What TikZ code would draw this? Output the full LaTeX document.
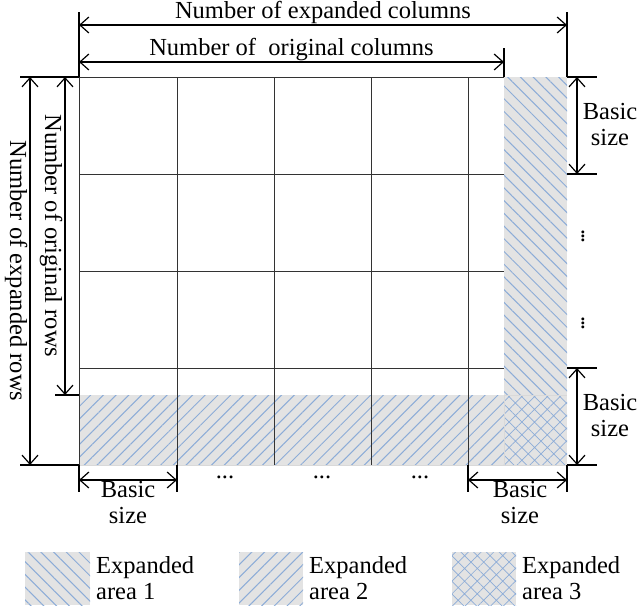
\documentclass[tikz,border=0pt]{standalone}
\usepackage{fontspec}
\setmainfont{Liberation Serif}
\usetikzlibrary{patterns.meta,arrows.meta}
\definecolor{hc}{RGB}{140,172,215}
\begin{document}
\begin{tikzpicture}[x=1pt,y=-1pt,font=\fontsize{24.5}{26}\selectfont,
  dim/.style={{Straight Barb[length=9pt,width=16pt]}-{Straight Barb[length=9pt,width=16pt]},line width=1.2pt},
  ext/.style={line width=1.2pt},
  bg/.style={fill=gray!22},
  pa/.style={pattern={Lines[angle=-45,distance=9pt,line width=1pt]},pattern color=hc},
  pb/.style={pattern={Lines[angle=45,distance=9pt,line width=1pt]},pattern color=hc},
  pc/.style={pattern={Hatch[angle=45,distance=9pt,line width=0.7pt]},pattern color=hc},
  grid/.style={line width=0.9pt,black!80},
  lab/.style={align=center,inner sep=0pt}]
\useasboundingbox (0,0) rectangle (640,613);
% hatched areas
\fill[bg] (504,77) rectangle (567,395);
\fill[pa] (504,77) rectangle (567,395);
\fill[bg] (79,395) rectangle (504,465);
\fill[pb] (79,395) rectangle (504,465);
\fill[bg] (504,395) rectangle (567,465);
\fill[pc] (504,395) rectangle (567,465);
% grid
\draw[grid] (79,77) -- (504,77);
\foreach \y in {174,271,368} \draw[grid] (79,\y) -- (504,\y);
\foreach \x in {79,177,274,371,468} \draw[grid] (\x,77) -- (\x,465);
\draw[grid,white!85!black] (504,395) -- (504,465) (79,465) -- (567,465) (504,395)--(567,395);
% top dims
\draw[ext] (79,12) -- (79,77);
\draw[ext] (567,12) -- (567,77);
\draw[ext] (504,48) -- (504,77);
\draw[dim] (79,25) -- node[above=1pt,lab] (t1) {Number of expanded columns} (567,25);
\draw[dim] (79,62) -- node[above=1pt,lab] (t2) {Number of\ \ original columns} (504,62);
% left dims
\draw[ext] (20,77) -- (79,77);
\draw[ext] (20,465) -- (79,465);
\draw[ext] (55,395) -- (79,395);
\draw[dim] (30,77) -- node[lab,rotate=-90,below=2pt] (l1) {Number of expanded rows} (30,465);
\draw[dim] (65,77) -- node[lab,rotate=-90,below=2pt] (l2) {Number of original rows} (65,395);
% right dims
\foreach \y in {77,174,368,465} \draw[ext] (567,\y) -- (597,\y);
\draw[dim] (577,77) -- (577,174);
\draw[dim] (577,368) -- (577,465);
\node[lab] (r1) at (610,125) {Basic\\size};
\node[lab] (r2) at (610,416) {Basic\\size};
\node[lab] (v1) at (583,233) {$\vdots$};
\node[lab] (v2) at (583,320) {$\vdots$};
% bottom dims
\foreach \x in {79,177,468,567} \draw[ext] (\x,465) -- (\x,492);
\draw[dim] (79,480) -- (177,480);
\draw[dim] (468,480) -- (567,480);
\node[lab] (b1) at (128,503) {Basic\\size};
\node[lab] (b2) at (520,503) {Basic\\size};
\foreach \x in {225,322,420} \node[lab] at (\x,477) {...};
% legend
\fill[bg] (25,552) rectangle (90,605); \fill[pa] (25,552) rectangle (90,605);
\fill[bg] (239,552) rectangle (303,605); \fill[pb] (239,552) rectangle (303,605);
\fill[bg] (452,552) rectangle (516,605); \fill[pc] (452,552) rectangle (516,605);
\node[lab,align=left,anchor=west] (g1) at (96,578) {Expanded\\area 1};
\node[lab,align=left,anchor=west] (g2) at (309,578) {Expanded\\area 2};
\node[lab,align=left,anchor=west] (g3) at (522,578) {Expanded\\area 3};
\end{tikzpicture}
\end{document}
